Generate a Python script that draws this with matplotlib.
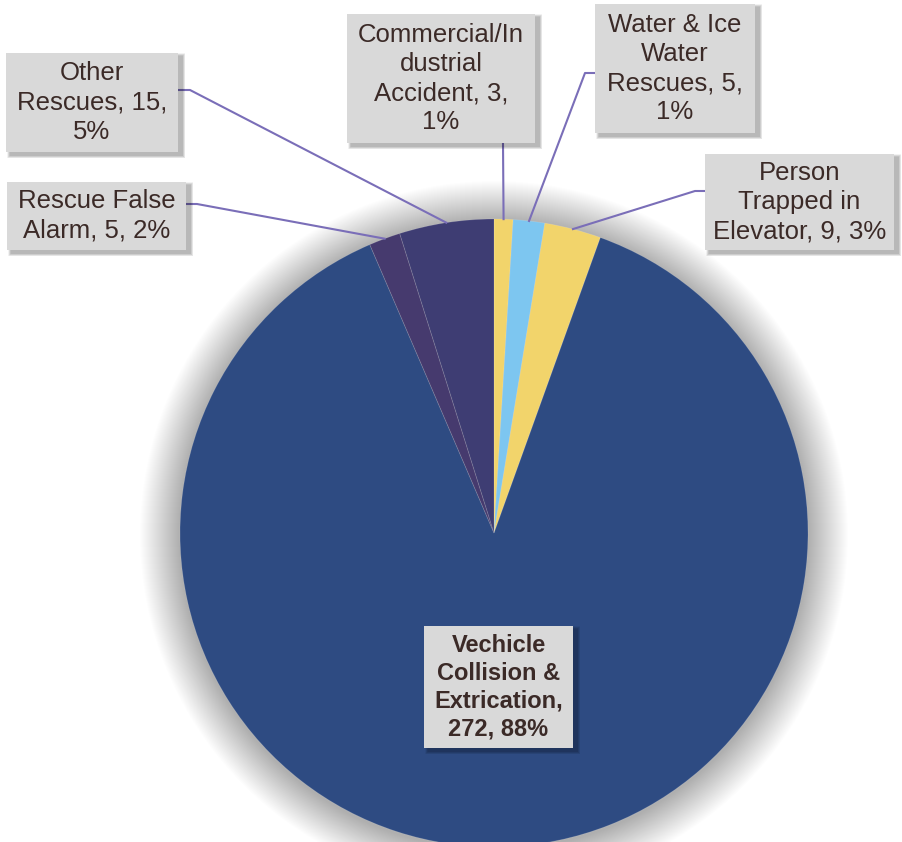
import matplotlib
matplotlib.use("Agg")
import matplotlib.pyplot as plt
import numpy as np
from matplotlib.patches import Rectangle, Circle

categories = ["Commercial/In\ndustrial\nAccident", "Water & Ice\nWater\nRescues", "Person\nTrapped in\nElevator",
              "Vechicle\nCollision &\nExtrication", "Rescue False\nAlarm", "Other\nRescues"]
values = [3, 5, 9, 272, 5, 15]
percent_labels = ["1%", "1%", "3%", "88%", "2%", "5%"]
label_texts = ["Commercial/In\ndustrial\nAccident, 3,\n1%",
               "Water & Ice\nWater\nRescues, 5,\n1%",
               "Person\nTrapped in\nElevator, 9, 3%",
               "Vechicle\nCollision &\nExtrication,\n272, 88%",
               "Rescue False\nAlarm, 5, 2%",
               "Other\nRescues, 15,\n5%"]
colors = ["#F2D46B", "#7DC6F0", "#F2D46B", "#2E4B82", "#463A6E", "#3E3D73"]

W, H = 902, 842
fig = plt.figure(figsize=(W / 100, H / 100), dpi=100)
ax = fig.add_axes([0, 0, 1, 1])

cx, cy, R = 494, H - 533, 314

# soft glow shadow around pie
n = 40
for k in range(n, 0, -1):
    ax.add_patch(Circle((cx, cy - 2), R + k * 1.0, fc="#000000", ec="none", alpha=0.0065, zorder=0))

wedges, _ = ax.pie(values, colors=colors, startangle=90, counterclock=False,
                   center=(cx, cy), radius=R,
                   wedgeprops=dict(linewidth=0.6, edgecolor=(1, 1, 1, 0.15)))
for w in wedges:
    w.set_zorder(2)

ax.set_xlim(0, W)
ax.set_ylim(0, H)
ax.set_aspect("equal")
ax.axis("off")

# label boxes (pixel coords, top-left origin): x0, y0, x1, y1
boxes = [(347, 14, 535, 143), (595, 4, 755, 133), (705, 154, 894, 250),
         (424, 626, 573, 748), (7, 182, 186, 250), (6, 53, 178, 152)]
# leader start points (box side) and elbow
leaders = [[(503, 143)], [(595, 73), (585, 73)], [(705, 191), (695, 191)],
           None, [(186, 204), (197, 204)], [(178, 90), (190, 90)]]
weights = ["normal", "normal", "normal", "bold", "normal", "normal"]
sizes = [18.5, 18.5, 18.5, 17.0, 18.5, 18.5]

total = sum(values)
cum = np.cumsum([0] + values)
text_color = "#3B2A27"
line_color = "#7A6EB8"

for i, (lab, box) in enumerate(zip(label_texts, boxes)):
    x0, y0, x1, y1 = box
    # shadow
    for s in range(6, 0, -1):
        ax.add_patch(Rectangle((x0 + 4 - s * 0.5, H - y1 - 3 - s * 0.5), (x1 - x0) + s, (y1 - y0) + s,
                               fc="#000000", ec="none", alpha=0.05, zorder=4))
    ax.add_patch(Rectangle((x0, H - y1), x1 - x0, y1 - y0, fc="#D9D9D9", ec="none", zorder=5))
    ax.text((x0 + x1) / 2, H - (y0 + y1) / 2, lab, ha="center", va="center",
            fontsize=sizes[i], color=text_color, family="Liberation Sans", fontweight=weights[i],
            linespacing=1.27, zorder=6)
    if leaders[i] is not None:
        mid = (cum[i] + cum[i + 1]) / 2 / total * 2 * np.pi
        ax_x = cx + R * np.sin(mid)
        ax_y = cy + R * np.cos(mid)
        pts = [(p[0], H - p[1]) for p in leaders[i]] + [(ax_x, ax_y)]
        xs, ys = zip(*pts)
        ax.plot(xs, ys, color=line_color, lw=1.5, zorder=3)

fig.savefig("out.png", dpi=100)
